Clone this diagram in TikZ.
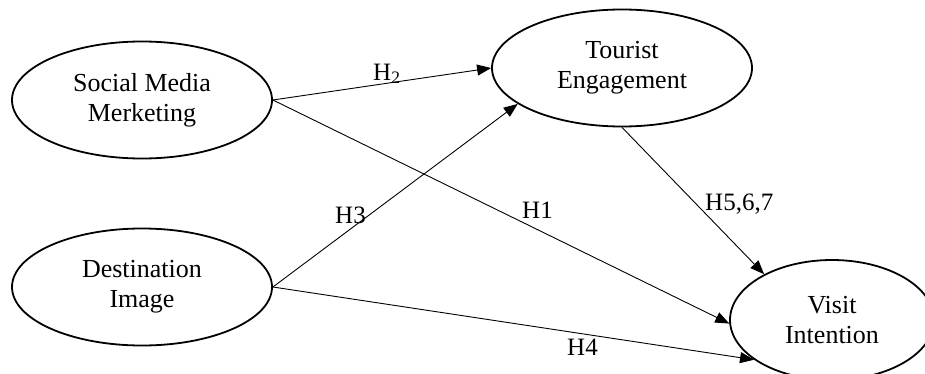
\documentclass[tikz,border=0pt]{standalone}
\usepackage{fontspec}
\setmainfont{Liberation Serif}
\usetikzlibrary{shapes, arrows.meta}

\begin{document}
\begin{tikzpicture}[x=1pt, y=1pt, font=\fontsize{26}{30}\selectfont,
        main/.style={ellipse, draw, line width=1.8pt, align=center, inner sep=0pt, minimum width=260pt, minimum height=117pt},
        link/.style={-{Triangle[length=14pt, width=11pt]}, line width=0.9pt},
        hyp/.style={anchor=base west, inner sep=0pt, font=\fontsize{25}{30}\selectfont}]
        \useasboundingbox (0,0) rectangle (925,373);
        \node[main] (smm) at (142,273) {Social Media\\Merketing};
        \node[main] (di) at (142,86) {Destination\\Image};
        \node[main] (te) at (622,305) {Tourist\\Engagement};
        \node[main, minimum width=204pt, minimum height=120pt] (vi) at (832,53) {Visit\\Intention};
        \draw[link] (smm.east) -- (te.west);
        \draw[link] (smm.east) -- (vi.182);
        \draw[link] (di.east) -- (te.199);
        \draw[link] (di.east) -- (vi.207);
        \draw[link] (te.south) -- (vi.146);
        % hypothesis labels
        \node[hyp] (h2) at (373,293) {H\textsubscript{2}};
        \node[hyp] (h1) at (522,155) {H1};
        \node[hyp] (h3) at (335,150) {H3};
        \node[hyp] (h4) at (567,18) {H4};
        \node[hyp] (h567) at (705,163) {H5,6,7};
    \end{tikzpicture}
\end{document}
